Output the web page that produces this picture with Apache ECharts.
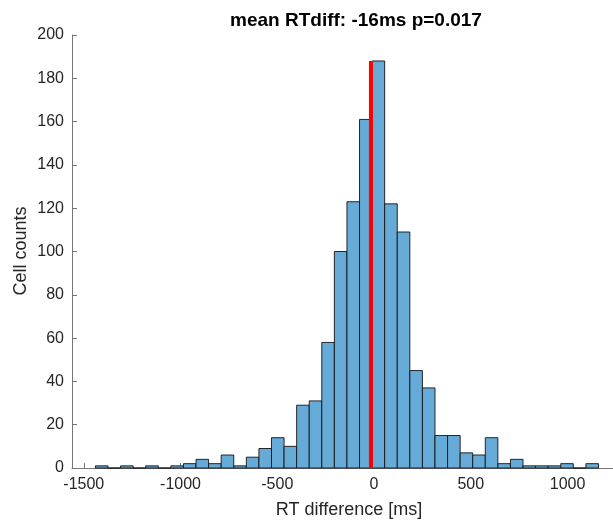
<!DOCTYPE html>
<html>
<head>
<meta charset="utf-8">
<script src="https://cdn.jsdelivr.net/npm/echarts@6/dist/echarts.min.js"></script>
<style>html,body{margin:0;padding:0;background:#fff}#c{width:613px;height:522px}</style>
</head>
<body>
<div id="c"></div>
<script>
// Histogram data (40 bins of 65 ms starting at -1440 ms)
const binStart = -1440;
const binWidth = 65;
const counts = [1,0,1,0,1,0,1,2,4,2, 6,1,5,9,14,10,29,31,58,100, 123,161,188,122,109,45,37,15,15,7, 6,14,2,4,1,1,1,2,0,2];
const meanDiff = -16;
const xTicks = [-1500, -1000, -500, 0, 500, 1000];
const titleText = 'mean RTdiff: -16ms p=0.017';
const xName = 'RT difference [ms]';
const yName = 'Cell counts';

const binData = counts.map((c, i) => [binStart + i * binWidth, binStart + (i + 1) * binWidth, c]);
const meanLine = [[meanDiff, 0], [meanDiff, Math.max(...counts)]];

const chart = echarts.init(document.getElementById('c'), null, {renderer: 'canvas'});
const font = 'Liberation Sans, Arial, Helvetica, sans-serif';
const axisCol = '#767676';
const txtCol = '#262626';

chart.setOption({
  animation: false,
  backgroundColor: '#fff',
  grid: {left: 72, right: 0, top: 35, bottom: 54, containLabel: false},
  xAxis: {
    type: 'value', min: -1561, max: 1235,
    axisLine: {show: true, onZero: false, lineStyle: {color: axisCol, width: 1}},
    axisTick: {show: true, inside: true, length: 5, customValues: xTicks, lineStyle: {color: axisCol}},
    axisLabel: {customValues: xTicks, formatter: v => String(v), color: txtCol, fontSize: 16, fontFamily: font, margin: 9},
    splitLine: {show: false}
  },
  yAxis: {
    type: 'value', min: 0, max: 200, interval: 20,
    axisLine: {show: true, onZero: false, lineStyle: {color: axisCol, width: 1}},
    axisTick: {show: true, inside: true, length: 5, lineStyle: {color: axisCol}},
    axisLabel: {formatter: v => String(v), color: txtCol, fontSize: 16, fontFamily: font, margin: 8},
    splitLine: {show: false}
  },
  graphic: [
    {type: 'text', position: [356, 21], style: {text: titleText, textAlign: 'center', textVerticalAlign: 'middle', fontSize: 19, fontWeight: 'bold', fontFamily: font, fill: '#000'}},
    {type: 'text', position: [349, 510], style: {text: xName, textAlign: 'center', textVerticalAlign: 'middle', fontSize: 18, fontFamily: font, fill: txtCol}},
    {type: 'text', position: [21, 251], rotation: Math.PI / 2, style: {text: yName, textAlign: 'center', textVerticalAlign: 'middle', fontSize: 18, fontFamily: font, fill: txtCol}}
  ],
  series: [
    {
      type: 'custom',
      data: binData,
      encode: {x: [0, 1], y: 2},
      renderItem: function (params, api) {
        const p0 = api.coord([api.value(0), api.value(2)]);
        const p1 = api.coord([api.value(1), 0]);
        return {
          type: 'rect',
          shape: {x: p0[0], y: p0[1], width: p1[0] - p0[0], height: p1[1] - p0[1]},
          style: {fill: '#66aad7', stroke: 'rgba(20,20,20,0.9)', lineWidth: 1}
        };
      },
      z: 2
    },
    {
      type: 'line',
      data: meanLine,
      symbol: 'none',
      lineStyle: {color: '#ff0000', width: 4},
      z: 3
    }
  ]
});
</script>
</body>
</html>
